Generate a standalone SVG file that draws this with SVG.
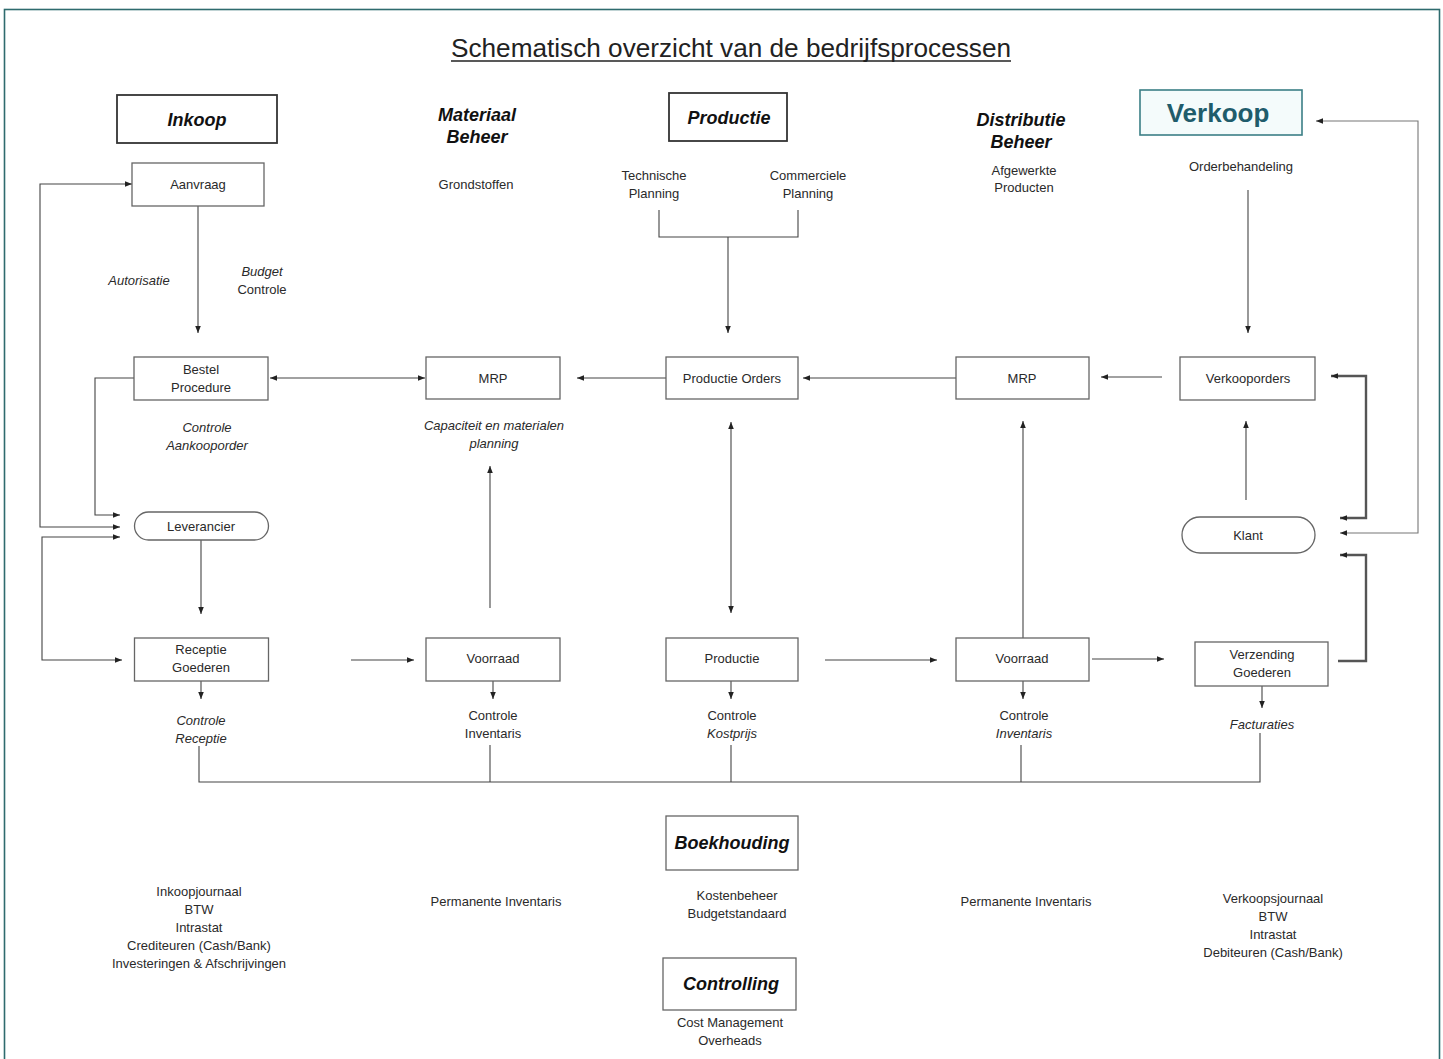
<svg xmlns="http://www.w3.org/2000/svg" width="1443" height="1059" viewBox="0 0 1443 1059">
<style>
text{font-family:"Liberation Sans",Arial,sans-serif;fill:#2a2a2a;text-anchor:middle}
.s{font-size:13px}
.i{font-style:italic}
.h{font-size:18px;font-weight:bold;font-style:italic;fill:#111}
.box{fill:#fff;stroke:#666;stroke-width:1.3}
.hbox{fill:#fff;stroke:#333;stroke-width:1.8}
.c{fill:none;stroke:#444;stroke-width:1.1}
.thick{fill:none;stroke:#555;stroke-width:2.4}
</style>
<defs>
<marker id="ah" viewBox="0 0 10 10" refX="10" refY="5" markerWidth="7" markerHeight="7" orient="auto-start-reverse" markerUnits="userSpaceOnUse"><path d="M0,1 L10,5 L0,9 z" fill="#222"/></marker>
</defs>
<rect x="0" y="0" width="1443" height="1059" fill="#fff"/>
<rect x="4.5" y="9.5" width="1435" height="1060" fill="none" stroke="#2e6b6e" stroke-width="1.6"/>

<g id="title">
<text x="731" y="57" textLength="560" lengthAdjust="spacingAndGlyphs" style="font-size:25px;fill:#222">Schematisch overzicht van de bedrijfsprocessen</text>
<line x1="451" y1="61" x2="1011" y2="61" stroke="#222" stroke-width="1.3"/>
</g>

<g id="connectors">
<path class="c" d="M198,206 V333" marker-end="url(#ah)"/>
<path class="c" d="M120,527 H40 V184 H132" marker-start="url(#ah)" marker-end="url(#ah)"/>
<path class="c" d="M134,378 H95 V515 H120" marker-end="url(#ah)"/>
<path class="c" d="M120,537 H42 V660 H122" marker-start="url(#ah)" marker-end="url(#ah)"/>
<path class="c" d="M201,540 V614" marker-end="url(#ah)"/>
<path class="c" d="M270,378 H425" marker-start="url(#ah)" marker-end="url(#ah)"/>
<path class="c" d="M666,378 H577" marker-end="url(#ah)"/>
<path class="c" d="M956,378 H803" marker-end="url(#ah)"/>
<path class="c" d="M1162,377 H1101" marker-end="url(#ah)"/>
<path class="c" d="M659,210 V237 H798 V210"/>
<path class="c" d="M728,237 V333" marker-end="url(#ah)"/>
<path class="c" d="M1248,190 V333" marker-end="url(#ah)"/>
<path class="c" d="M490,608 V466" marker-end="url(#ah)"/>
<path class="c" d="M731,422 V613" marker-start="url(#ah)" marker-end="url(#ah)"/>
<path class="c" d="M1023,638 V421" marker-end="url(#ah)"/>
<path class="c" d="M1246,500 V421" marker-end="url(#ah)"/>
<path class="c" d="M351,660 H414" marker-end="url(#ah)"/>
<path class="c" d="M825,660 H937" marker-end="url(#ah)"/>
<path class="c" d="M1092,659 H1164" marker-end="url(#ah)"/>
<path class="c" d="M201,681 V699" marker-end="url(#ah)"/>
<path class="c" d="M493,681 V699" marker-end="url(#ah)"/>
<path class="c" d="M731,681 V699" marker-end="url(#ah)"/>
<path class="c" d="M1023,681 V699" marker-end="url(#ah)"/>
<path class="c" d="M1262,686 V708" marker-end="url(#ah)"/>
<path class="c" d="M199,746 V782 H1260 V733"/>
<path class="c" d="M490,745 V782"/>
<path class="c" d="M731,745 V782"/>
<path class="c" d="M1021,745 V782"/>
<path class="thick" d="M1331,376 H1366 V518 H1340" marker-start="url(#ah)" marker-end="url(#ah)"/>
<path class="thick" d="M1338,661 H1366 V555 H1340" marker-end="url(#ah)"/>
<path class="c" style="stroke:#777" d="M1316,121 H1418 V533 H1340" marker-start="url(#ah)" marker-end="url(#ah)"/>
</g>

<g id="inkoop"><rect class="hbox" x="117" y="95" width="160" height="48"/><text class="h" x="197" y="126">Inkoop</text></g>
<g id="materiaal-beheer"><text class="h" x="477" y="121">Materiaal</text><text class="h" x="477" y="143">Beheer</text></g>
<g id="productie-hdr"><rect class="hbox" x="669" y="93" width="118" height="48"/><text class="h" x="729" y="124">Productie</text></g>
<g id="distributie-beheer"><text class="h" x="1021" y="126">Distributie</text><text class="h" x="1021" y="148">Beheer</text></g>
<g id="verkoop"><rect x="1140" y="90" width="162" height="45" fill="#f4fbfb" stroke="#3b7f86" stroke-width="1.6"/><text x="1218" y="122" style="font-size:26px;font-weight:bold;fill:#1f5c6b">Verkoop</text></g>

<g id="aanvraag"><rect class="box" x="132" y="163" width="132" height="43"/><text class="s" x="198" y="189">Aanvraag</text></g>
<g id="grondstoffen"><text class="s" x="476" y="189">Grondstoffen</text></g>
<g id="technische-planning"><text class="s" x="654" y="180">Technische</text><text class="s" x="654" y="198">Planning</text></g>
<g id="commerciele-planning"><text class="s" x="808" y="180">Commerciele</text><text class="s" x="808" y="198">Planning</text></g>
<g id="afgewerkte-producten"><text class="s" x="1024" y="175">Afgewerkte</text><text class="s" x="1024" y="192">Producten</text></g>
<g id="orderbehandeling"><text class="s" x="1241" y="171">Orderbehandeling</text></g>
<g id="autorisatie"><text class="s i" x="139" y="285">Autorisatie</text></g>
<g id="budget-controle"><text class="s i" x="262" y="276">Budget</text><text class="s" x="262" y="294">Controle</text></g>

<g id="bestel-procedure"><rect class="box" x="134" y="357" width="134" height="43"/><text class="s" x="201" y="374">Bestel</text><text class="s" x="201" y="392">Procedure</text></g>
<g id="controle-aankooporder"><text class="s i" x="207" y="432">Controle</text><text class="s i" x="207" y="450">Aankooporder</text></g>
<g id="mrp1"><rect class="box" x="426" y="357" width="134" height="42"/><text class="s" x="493" y="383">MRP</text></g>
<g id="capaciteit"><text class="s i" x="494" y="430">Capaciteit en materialen</text><text class="s i" x="494" y="448">planning</text></g>
<g id="productie-orders"><rect class="box" x="666" y="357" width="132" height="42"/><text class="s" x="732" y="383">Productie Orders</text></g>
<g id="mrp2"><rect class="box" x="956" y="357" width="133" height="42"/><text class="s" x="1022" y="383">MRP</text></g>
<g id="verkooporders"><rect class="box" x="1180" y="357" width="135" height="43"/><text class="s" x="1248" y="383">Verkooporders</text></g>

<g id="leverancier"><rect class="box" x="134.5" y="512" width="134" height="28" rx="14"/><text class="s" x="201" y="531">Leverancier</text></g>
<g id="klant"><rect class="box" x="1182" y="517" width="133" height="36" rx="18"/><text class="s" x="1248" y="540">Klant</text></g>

<g id="receptie-goederen"><rect class="box" x="134.5" y="638" width="134" height="43"/><text class="s" x="201" y="654">Receptie</text><text class="s" x="201" y="672">Goederen</text></g>
<g id="voorraad1"><rect class="box" x="426" y="638" width="134" height="43"/><text class="s" x="493" y="663">Voorraad</text></g>
<g id="productie"><rect class="box" x="666" y="638" width="132" height="43"/><text class="s" x="732" y="663">Productie</text></g>
<g id="voorraad2"><rect class="box" x="956" y="638" width="133" height="43"/><text class="s" x="1022" y="663">Voorraad</text></g>
<g id="verzending-goederen"><rect class="box" x="1195" y="642" width="133" height="44"/><text class="s" x="1262" y="659">Verzending</text><text class="s" x="1262" y="677">Goederen</text></g>

<g id="controle-receptie"><text class="s i" x="201" y="725">Controle</text><text class="s i" x="201" y="743">Receptie</text></g>
<g id="controle-inventaris1"><text class="s" x="493" y="720">Controle</text><text class="s" x="493" y="738">Inventaris</text></g>
<g id="controle-kostprijs"><text class="s" x="732" y="720">Controle</text><text class="s i" x="732" y="738">Kostprijs</text></g>
<g id="controle-inventaris2"><text class="s" x="1024" y="720">Controle</text><text class="s i" x="1024" y="738">Inventaris</text></g>
<g id="facturaties"><text class="s i" x="1262" y="729">Facturaties</text></g>

<g id="boekhouding"><rect class="box" x="666" y="816" width="132" height="54"/><text class="h" x="732" y="849">Boekhouding</text></g>
<g id="kostenbeheer"><text class="s" x="737" y="900">Kostenbeheer</text><text class="s" x="737" y="918">Budgetstandaard</text></g>
<g id="controlling"><rect class="box" x="663" y="958" width="133" height="52"/><text class="h" x="731" y="990">Controlling</text></g>
<g id="cost-management"><text class="s" x="730" y="1027">Cost Management</text><text class="s" x="730" y="1045">Overheads</text></g>

<g id="inkoop-boekingen"><text class="s" x="199" y="896">Inkoopjournaal</text><text class="s" x="199" y="914">BTW</text><text class="s" x="199" y="932">Intrastat</text><text class="s" x="199" y="950">Crediteuren (Cash/Bank)</text><text class="s" x="199" y="968">Investeringen &amp; Afschrijvingen</text></g>
<g id="permanente-inventaris1"><text class="s" x="496" y="906">Permanente Inventaris</text></g>
<g id="permanente-inventaris2"><text class="s" x="1026" y="906">Permanente Inventaris</text></g>
<g id="verkoop-boekingen"><text class="s" x="1273" y="903">Verkoopsjournaal</text><text class="s" x="1273" y="921">BTW</text><text class="s" x="1273" y="939">Intrastat</text><text class="s" x="1273" y="957">Debiteuren (Cash/Bank)</text></g>
</svg>
